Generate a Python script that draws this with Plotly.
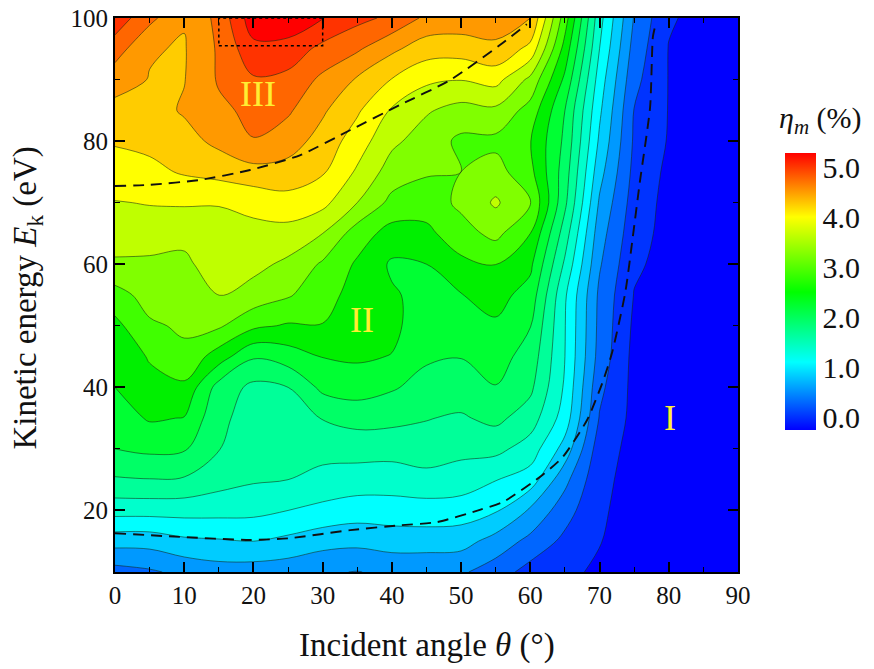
import numpy as np
import plotly.graph_objects as go

theta = list(range(0, 95, 5))
energy = list(range(10, 105, 5))

# efficiency (%) columns: one list per incident angle, E = 10 ... 100 eV
eta_00 = [0.53,1.03,1.59,2.01,2.32,2.46,2.60,2.64,2.80,3.05,3.40,3.57,3.71,3.86,4.03,4.20,4.39,4.70,5.01]
eta_05 = [0.60,1.03,1.59,2.03,2.38,2.63,2.77,2.91,3.12,3.27,3.37,3.62,3.73,3.93,4.07,4.17,4.27,4.30,4.64]
eta_10 = [0.71,1.14,1.59,2.01,2.35,2.59,2.82,3.10,3.20,3.30,3.38,3.52,3.75,4.03,4.18,4.31,4.27,4.26,4.30]
eta_15 = [0.79,1.17,1.58,1.87,2.05,2.10,2.21,2.74,3.20,3.45,3.59,3.65,3.73,4.10,4.35,4.50,4.59,4.60,4.64]
eta_20 = [0.78,1.20,1.56,1.79,1.86,1.93,1.97,2.35,2.94,3.33,3.52,3.64,3.80,4.18,4.55,4.63,4.81,5.04,5.29]
eta_25 = [0.75,1.13,1.48,1.76,1.84,1.94,2.04,2.46,2.85,3.19,3.38,3.62,3.89,4.17,4.41,4.60,4.76,5.01,5.32]
eta_30 = [0.67,1.03,1.41,1.66,1.87,2.05,2.39,2.61,2.87,2.99,3.12,3.44,3.80,4.03,4.17,4.32,4.50,4.76,5.13]
eta_35 = [0.63,1.00,1.34,1.63,1.87,2.14,2.45,2.64,2.68,2.77,2.84,3.02,3.44,3.68,3.86,4.04,4.25,4.60,4.92]
eta_40 = [0.70,1.05,1.35,1.62,1.86,2.12,2.35,2.59,2.67,2.63,2.56,2.77,3.08,3.31,3.50,3.69,3.99,4.34,4.78]
eta_45 = [0.70,1.05,1.37,1.65,1.94,2.05,2.22,2.36,2.43,2.52,2.60,2.81,3.01,3.19,3.31,3.47,3.78,4.13,4.50]
eta_50 = [0.68,1.03,1.35,1.62,1.84,2.01,2.18,2.33,2.45,2.59,2.81,3.05,3.22,3.16,3.10,3.34,3.73,4.13,4.45]
eta_55 = [0.50,0.81,1.23,1.49,1.84,2.11,2.31,2.43,2.56,2.70,2.89,3.24,3.48,3.27,3.09,3.38,3.82,4.22,4.42]
eta_60 = [0.25,0.56,0.88,1.35,1.63,1.90,2.10,2.21,2.33,2.49,2.66,2.88,3.17,2.96,2.89,3.05,3.37,3.92,4.28]
eta_65 = [0.17,0.29,0.48,0.72,1.09,1.35,1.44,1.48,1.49,1.52,1.71,1.90,2.10,2.18,2.26,2.32,2.54,2.77,3.01]
eta_70 = [0.01,0.09,0.11,0.14,0.20,0.34,0.43,0.53,0.56,0.58,0.67,0.76,0.88,1.02,1.15,1.25,1.35,1.48,1.58]
eta_75 = [0,0,0,0,0,0,0,0,0.03,0.07,0.12,0.18,0.23,0.28,0.32,0.35,0.44,0.53,0.62]
eta_80 = [0,0,0,0,0,0,0,0,0,0,0,0,0,0.02,0.06,0.07,0.07,0.07,0.11]
eta_85 = [0]*19
eta_90 = [0]*19

lower_theta = [0,9.4,19.5,25.3,34,41.2,46.5,52.7,56.1,61.8,64.7,68.2,70.4,71.8,73.7,74.8,75.8,77.3,77.7,78]
lower_energy = [16.3,15.7,15.2,15.5,16.8,17.6,18.1,20.1,21.4,25.8,28.7,34.7,40.7,45.6,55.3,64.4,73.2,85.5,96.9,98.5]
upper_theta = [0,5,12.3,19.5,26.7,34,41.2,48.4,55.6,59.5]
upper_energy = [72.7,72.9,73.7,75.3,77.7,81.8,85.9,89.9,95.6,99]

box_theta = [15, 30]
box_energy = [95.5, 100]
x_ticks = list(range(0, 100, 10))
y_ticks = [20, 40, 60, 80, 100]
bar_ticks = [0, 1, 2, 3, 4, 5]
bar_labels = ["0.0", "1.0", "2.0", "3.0", "4.0", "5.0"]

z = np.column_stack([eta_00, eta_05, eta_10, eta_15, eta_20, eta_25, eta_30, eta_35, eta_40, eta_45,
                     eta_50, eta_55, eta_60, eta_65, eta_70, eta_75, eta_80, eta_85, eta_90])

band_colors = ["#0000ff", "#0033ff", "#0066ff", "#0099ff", "#00ccff", "#00ffff", "#00ffcc", "#00ff99",
               "#00ff66", "#00ff33", "#00f000", "#40ff00", "#80ff00", "#bfff00", "#ffff00", "#ffcc00",
               "#ff9900", "#ff6600", "#ff3300", "#ff0000"]
band_scale = [[i / (len(band_colors) - 1), c] for i, c in enumerate(band_colors)]
bar_scale = [[0, "#0000ff"], [0.245, "#00ffff"], [0.498, "#00ff00"], [0.769, "#ffff00"], [1, "#ff0000"]]

SERIF = "Liberation Serif"
fig = go.Figure()
fig.add_trace(go.Contour(
    x=theta, y=energy, z=z, autocontour=False, showscale=False, colorscale=band_scale,
    contours=dict(start=0.08, end=5.12, size=0.28, coloring="fill", showlines=True),
    line=dict(color="rgba(20,40,20,0.62)", width=0.9, smoothing=1),
    hoverinfo="skip",
))
dash = dict(color="#111111", width=1.9, dash="11px,7px", shape="spline", smoothing=0.6)
fig.add_trace(go.Scatter(x=lower_theta, y=lower_energy, mode="lines", line=dash, showlegend=False))
fig.add_trace(go.Scatter(x=upper_theta, y=upper_energy, mode="lines", line=dash, showlegend=False))
fig.add_trace(go.Scatter(
    x=[None, None], y=[None, None], mode="markers", showlegend=False,
    marker=dict(color=[0, 5], cmin=-0.26, cmax=5.28, colorscale=bar_scale, showscale=True,
                colorbar=dict(x=1.0754, xanchor="left", y=0.256, yanchor="bottom", len=0.5, lenmode="fraction",
                              thickness=31, thicknessmode="pixels", outlinewidth=0, ticks="", xpad=0, ypad=0,
                              tickvals=bar_ticks, ticktext=bar_labels,
                              tickfont=dict(family=SERIF, size=30, color="#111111"))),
))
fig.add_shape(type="rect", x0=box_theta[0], x1=box_theta[1], y0=box_energy[0], y1=box_energy[1],
              line=dict(color="black", width=1.5, dash="dot"))

for txt, xv, yv, size in [("III", 20.7, 87.7, 36), ("II", 35.7, 51, 36), ("I", 80.2, 35, 36)]:
    fig.add_annotation(x=xv, y=yv, text=txt, showarrow=False,
                       font=dict(family=SERIF, size=size, color="#ffee33"))
fig.add_annotation(xref="paper", yref="paper", x=1.062, xanchor="left", y=0.816, yanchor="middle",
                   text="<i>η<sub>m</sub></i> (%)", showarrow=False,
                   font=dict(family=SERIF, size=30, color="#111111"))
fig.add_annotation(xref="paper", yref="paper", x=0.5, xanchor="center", y=-0.132, yanchor="middle",
                   text="Incident angle <i>θ</i> (°)", showarrow=False,
                   font=dict(family=SERIF, size=33, color="#111111"))
fig.add_annotation(xref="paper", yref="paper", x=-0.14, xanchor="center", y=0.495, yanchor="middle", textangle=-90,
                   text="Kinetic energy <i>E</i><sub>k</sub> (eV)", showarrow=False,
                   font=dict(family=SERIF, size=33, color="#111111"))

axis = dict(showline=True, linecolor="black", linewidth=2, mirror="allticks", ticks="inside", ticklen=10,
            tickwidth=1.6, tickcolor="black", showgrid=False, zeroline=False, automargin=False,
            tickfont=dict(family=SERIF, size=25, color="#111111"))
fig.update_layout(
    width=874, height=669, autosize=False, paper_bgcolor="white", plot_bgcolor="white",
    margin=dict(l=115, r=136, t=18, b=97), showlegend=False,
    xaxis=dict(axis, range=[0, 90], tickvals=x_ticks, minor=dict(dtick=5, tick0=0, ticks="inside", ticklen=5, tickwidth=1.4, tickcolor="black")),
    yaxis=dict(axis, range=[10, 100], tickvals=y_ticks, minor=dict(dtick=10, tick0=0, ticks="inside", ticklen=5, tickwidth=1.4, tickcolor="black")),
)
fig.write_html("out.html", post_script="document.body.style.margin='0';", config=dict(displayModeBar=False))
